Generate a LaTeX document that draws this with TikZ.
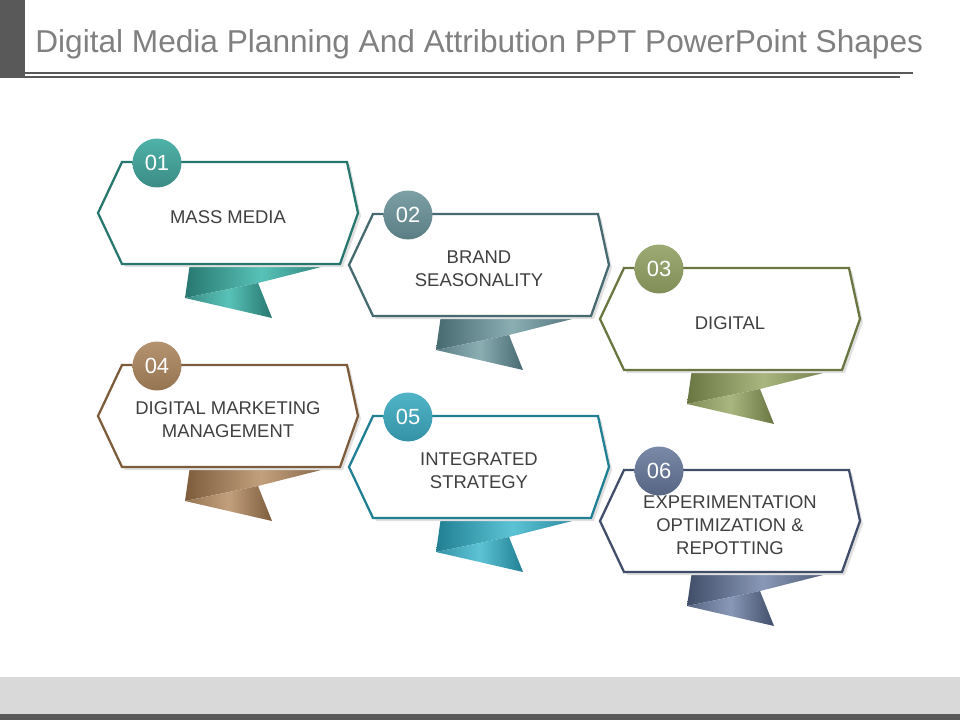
\documentclass[tikz,border=0pt]{standalone}
\usepackage{fontspec}
\setmainfont{Liberation Sans}

\definecolor{barGray}{HTML}{595959}
\definecolor{bandGray}{HTML}{D9D9D9}
\definecolor{titleGray}{HTML}{808080}
\definecolor{labelGray}{HTML}{404040}
% one colour triple per card
\definecolor{tealmain}{HTML}{3B8C85}   \definecolor{tealdark}{HTML}{27776F}   \definecolor{teallight}{HTML}{58C2B8}
\definecolor{slatemain}{HTML}{5A7E84}  \definecolor{slatedark}{HTML}{466A70}  \definecolor{slatelight}{HTML}{8BAEB3}
\definecolor{olivemain}{HTML}{818E57}  \definecolor{olivedark}{HTML}{6A7642}  \definecolor{olivelight}{HTML}{AAB67F}
\definecolor{brownmain}{HTML}{957452}  \definecolor{browndark}{HTML}{7D5C3C}  \definecolor{brownlight}{HTML}{C2A07E}
\definecolor{bluemain}{HTML}{3592A6}   \definecolor{bluedark}{HTML}{217F93}   \definecolor{bluelight}{HTML}{5CC3D5}
\definecolor{navymain}{HTML}{566582}   \definecolor{navydark}{HTML}{414E6A}   \definecolor{navylight}{HTML}{8998B6}

\tikzset{
  cardtext/.style={text=labelGray, align=center, font=\fontsize{10.5}{13}\selectfont},
  numdisc/.style={circle, minimum size=0.98cm, inner sep=0pt, text=white,
                  font=\fontsize{12.5}{14}\selectfont},
}

% #1 name, #2 x, #3 y, #4 colour, #5 number, #6 text
\newcommand{\ribboncard}[6]{%
  \begin{scope}[shift={(#2,#3)}]
    \shade[left color=#4dark, right color=#4dark, middle color=#4light] (-38,50) -- (109,50) -- (30,70) -- (-43,85) -- cycle;
    \shade[left color=#4main, right color=#4dark, middle color=#4light] (-43,85) -- (30,70) -- (44,105) -- cycle;
    \fill[black!12] (-127,3) -- (-103,-48) -- (122,-48) -- (133,3) -- (115,54) -- (-103,54) -- cycle;
    \draw[#4dark, line width=1.3pt, fill=white] (-130,0) -- (-106,-51) -- (119,-51) -- (130,0) -- (112,51) -- (-106,51) -- cycle;
    \node[cardtext] (#1text) at (0,4) {#6};
    \node[numdisc, top color=#4light!70!#4main, bottom color=#4main] (#1num) at (-71,-50) {#5};
  \end{scope}
}

\begin{document}
\begin{tikzpicture}[x=0.02cm, y=-0.02cm]
  \useasboundingbox (0,0) rectangle (960,720);
  \fill[white] (0,0) rectangle (960,720);

  % heading
  \fill[barGray] (0,0) rectangle (25,78);
  \node[anchor=base west, inner sep=0pt, text=titleGray, font=\fontsize{18}{20}\selectfont] (title) at (35,52)
    {Digital Media Planning And Attribution PPT PowerPoint Shapes};
  \draw[barGray, line width=1.1pt] (25,73) -- (913,73);
  \draw[barGray, line width=1.1pt] (25,77) -- (900,77);

  % cards
  \ribboncard{mass}{228}{213}{teal}{01}{MASS MEDIA}
  \ribboncard{brand}{479}{265}{slate}{02}{BRAND\\SEASONALITY}
  \ribboncard{digital}{730}{319}{olive}{03}{DIGITAL}
  \ribboncard{market}{228}{416}{brown}{04}{DIGITAL MARKETING\\MANAGEMENT}
  \ribboncard{strategy}{479}{467}{blue}{05}{INTEGRATED\\STRATEGY}
  \ribboncard{experiment}{730}{521}{navy}{06}{EXPERIMENTATION\\OPTIMIZATION \&\\REPOTTING}

  % footer
  \fill[bandGray] (0,677) rectangle (960,714);
  \fill[barGray] (0,714) rectangle (960,720);
\end{tikzpicture}
\end{document}
